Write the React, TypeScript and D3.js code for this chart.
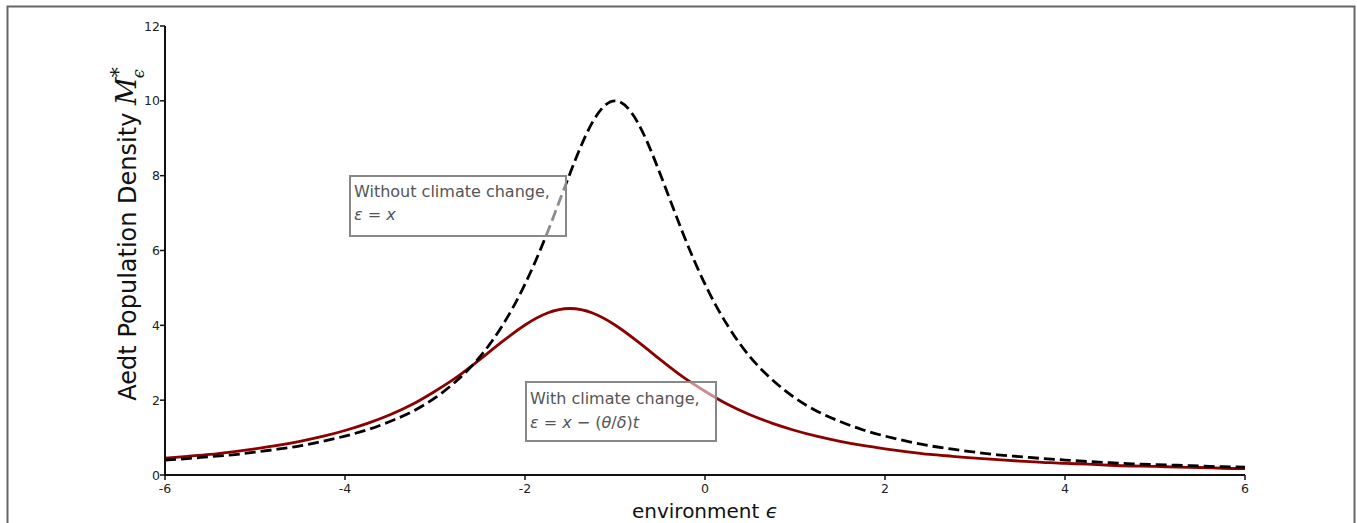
import React from "react";
import * as d3 from "d3";

const xValues = [
  -6, -5.75, -5.5, -5.25, -5, -4.75, -4.5, -4.25, -4, -3.75, -3.5, -3.25, -3, -2.75, -2.5, -2.25, -2,
  -1.75, -1.5, -1.25, -1, -0.75, -0.5, -0.25, 0, 0.25, 0.5, 0.75, 1, 1.25, 1.5, 1.75, 2, 2.25, 2.5,
  2.75, 3, 3.25, 3.5, 3.75, 4, 4.25, 4.5, 4.75, 5, 5.25, 5.5, 5.75, 6,
];

const withoutClimate = [
  0.4, 0.44, 0.49, 0.54, 0.61, 0.69, 0.78, 0.9, 1.04, 1.21, 1.43, 1.7, 2.06, 2.54, 3.16, 4.0, 5.1,
  6.49, 8.06, 9.43, 10.0, 9.43, 8.06, 6.49, 5.1, 4.0, 3.16, 2.54, 2.06, 1.7, 1.43, 1.21, 1.04, 0.9,
  0.78, 0.69, 0.61, 0.54, 0.49, 0.44, 0.4, 0.36, 0.33, 0.3, 0.28, 0.26, 0.24, 0.22, 0.21,
];

const withClimate = [
  0.45, 0.5, 0.55, 0.62, 0.7, 0.79, 0.9, 1.03, 1.19, 1.38, 1.61, 1.89, 2.24, 2.63, 3.09, 3.57, 4.01,
  4.33, 4.45, 4.33, 4.01, 3.57, 3.09, 2.63, 2.24, 1.89, 1.61, 1.38, 1.19, 1.03, 0.9, 0.79, 0.7, 0.62,
  0.55, 0.5, 0.45, 0.41, 0.37, 0.34, 0.31, 0.29, 0.26, 0.24, 0.23, 0.21, 0.2, 0.18, 0.17,
];

const xTicks = [-6, -4, -2, 0, 2, 4, 6];
const yTicks = [0, 2, 4, 6, 8, 10, 12];

const FONT = "'DejaVu Sans', Verdana, sans-serif";

export default function App() {
  const W = 1357;
  const H = 523;
  const x = d3.scaleLinear().domain([-6, 6]).range([165, 1245]);
  const y = d3.scaleLinear().domain([0, 12]).range([475, 26]);

  const line = d3
    .line<number>()
    .x((_, i) => x(xValues[i]))
    .y((d) => y(d))
    .curve(d3.curveNatural);

  const ital = { fontStyle: "italic" as const };

  return (
    <svg
      width={W}
      height={H}
      style={{ position: "absolute", left: 0, top: 0, background: "#fff" }}
      fontFamily={FONT}
    >
      <rect x={0} y={0} width={W} height={H} fill="#fff" />
      {/* frame */}
      <path d={`M7.5,${H + 5} V6.5 H1354.5 V${H + 5}`} fill="none" stroke="#666" strokeWidth={2} />

      {/* curves */}
      <path d={line(withClimate) || ""} fill="none" stroke="#8b0000" strokeWidth={2.8} />
      <path
        d={line(withoutClimate) || ""}
        fill="none"
        stroke="#000"
        strokeWidth={2.8}
        strokeDasharray="11,5"
      />

      {/* y axis */}
      <line x1={x(-6)} x2={x(-6)} y1={y(12)} y2={y(0)} stroke="#111" strokeWidth={2} />
      {yTicks.map((t) => (
        <g key={"y" + t}>
          <line x1={x(-6) - 5} x2={x(-6)} y1={y(t)} y2={y(t)} stroke="#111" strokeWidth={1.5} />
          <text x={x(-6) - 5} y={y(t)} dy="0.36em" textAnchor="end" fontSize={12.5} fill="#222">
            {t}
          </text>
        </g>
      ))}

      {/* x axis */}
      <line x1={x(-6)} x2={x(6)} y1={y(0)} y2={y(0)} stroke="#111" strokeWidth={2} />
      {xTicks.map((t) => (
        <g key={"x" + t}>
          <line x1={x(t)} x2={x(t)} y1={y(0)} y2={y(0) + 5} stroke="#111" strokeWidth={1.5} />
          <text x={x(t)} y={y(0) + 18} textAnchor="middle" fontSize={12.5} fill="#222">
            {t}
          </text>
        </g>
      ))}

      {/* axis titles */}
      <text x={705} y={518} textAnchor="middle" fontSize={20} fill="#111">
        environment <tspan style={ital}>ϵ</tspan>
      </text>
      <text
        transform={`translate(136,234) rotate(-90)`}
        textAnchor="middle"
        fontSize={24}
        fill="#111"
      >
        Aedt Population Density{"  "}
        <tspan fontFamily="'DejaVu Serif', serif" fontSize={27} style={ital}>
          M
        </tspan>
        <tspan fontFamily="'DejaVu Serif', serif" fontSize={20} dy={-11}>
          *
        </tspan>
        <tspan fontFamily="'DejaVu Serif', serif" fontSize={16} dx={-11} dy={19} style={ital}>
          ϵ
        </tspan>
      </text>

      {/* annotation boxes */}
      <rect x={350} y={176} width={216} height={60} fill="#fff" fillOpacity={0.55} stroke="#888" strokeWidth={2} />
      <text x={354} y={197} fontSize={16} fill="#555">
        Without climate change,
      </text>
      <text x={354} y={220} fontSize={16} fill="#555">
        <tspan style={ital}>ε</tspan> = <tspan style={ital}>x</tspan>
      </text>

      <rect x={526} y={382} width={190} height={59} fill="#fff" fillOpacity={0.55} stroke="#888" strokeWidth={2} />
      <text x={530} y={404} fontSize={16} fill="#555">
        With climate change,
      </text>
      <text x={530} y={428} fontSize={16} fill="#555">
        <tspan style={ital}>ε</tspan> = <tspan style={ital}>x</tspan> − (<tspan style={ital}>θ</tspan>/
        <tspan style={ital}>δ</tspan>)<tspan style={ital}>t</tspan>
      </text>
    </svg>
  );
}
